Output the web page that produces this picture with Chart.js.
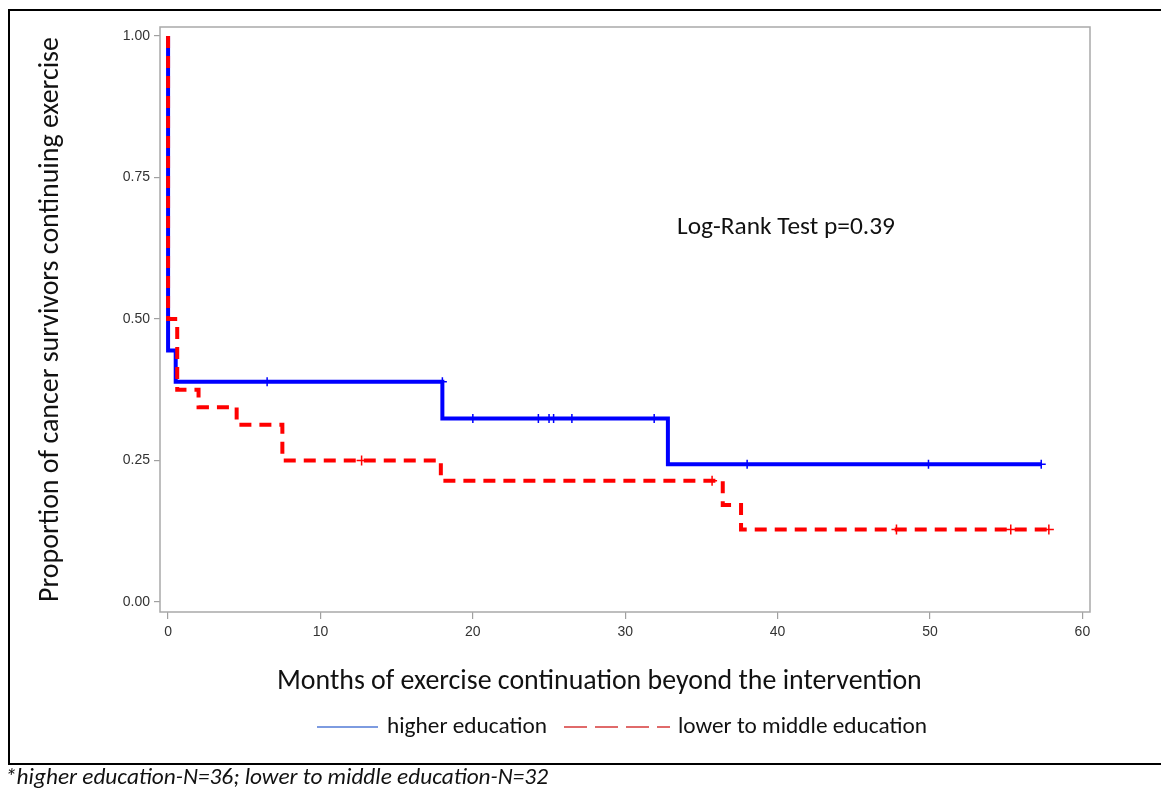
<!DOCTYPE html>
<html><head><meta charset="utf-8">
<script src="https://cdn.jsdelivr.net/npm/chart.js@4.4.0/dist/chart.umd.min.js"></script>
<style>html,body{margin:0;padding:0;background:#fff;}canvas{display:block;}</style>
</head><body>
<canvas id="c" width="1161" height="791"></canvas>
<script>
// ---- data ----
const xTicks = [0, 10, 20, 30, 40, 50, 60];
const yTicks = [0, 0.25, 0.5, 0.75, 1.0];
const seriesNames = ['higher education', 'lower to middle education'];

const higherTimes = [0, 0, 0.5, 18.0, 32.8, 57.3];
const higherSurv  = [1.0, 0.444, 0.389, 0.324, 0.243, 0.243];
const higherCensorTimes = [6.5, 18.0, 20.0, 24.3, 25.0, 25.3, 26.5, 31.9, 38.0, 49.9, 57.3];
const higherCensorSurv  = [0.389, 0.389, 0.324, 0.324, 0.324, 0.324, 0.324, 0.324, 0.243, 0.243, 0.243];

const lowerTimes = [0, 0, 0.6, 2.0, 4.5, 7.5, 17.9, 36.4, 37.6, 57.8];
const lowerSurv  = [1.0, 0.5, 0.375, 0.344, 0.313, 0.25, 0.214, 0.171, 0.128, 0.128];
const lowerCensorTimes = [12.7, 35.7, 47.8, 55.3, 57.8];
const lowerCensorSurv  = [0.25, 0.214, 0.128, 0.128, 0.128];

const xTitle = 'Months of exercise continuation beyond the intervention';
const yTitle = 'Proportion of cancer survivors continuing exercise';
const annotationText = 'Log-Rank Test p=0.39';
const footnoteText = '*higher education-N=36; lower to middle education-N=32';

// ---- helpers ----
const TXT_FAMILY = "Carlito, Lato, 'Open Sans', sans-serif";
const mctx = document.createElement('canvas').getContext('2d');
function fitSize(text, width, style) {
  mctx.font = (style || '') + ' 100px ' + TXT_FAMILY;
  return 100 * width / mctx.measureText(text).width;
}
const pts = (xs, ys) => xs.map((x, i) => ({x: x, y: ys[i]}));

const yTitleSize = fitSize(yTitle, 565);
const xTitleSize = fitSize(xTitle, 645);
const annSize = fitSize(annotationText, 218);
const legSize = fitSize(seriesNames[0], 160);
const footSize = fitSize(footnoteText, 543, 'italic');

const BLUE = '#0000ff', RED = '#ff0000';

const extras = {
  id: 'extras',
  beforeDatasetsDraw(chart) {
    const {ctx, chartArea: a} = chart;
    ctx.save();
    ctx.strokeStyle = '#a9a9a9';
    ctx.lineWidth = 1.5;
    ctx.strokeRect(a.left, a.top, a.right - a.left, a.bottom - a.top);
    ctx.restore();
  },
  afterDraw(chart) {
    const {ctx} = chart;
    ctx.save();
    // outer box
    ctx.strokeStyle = '#000';
    ctx.lineWidth = 2;
    ctx.strokeRect(9, 10, 1170, 754);
    // x axis title
    ctx.fillStyle = '#111';
    ctx.textBaseline = 'middle';
    ctx.textAlign = 'left';
    ctx.font = xTitleSize.toFixed(2) + 'px ' + TXT_FAMILY;
    ctx.fillText(xTitle, 277, 682);
    // annotation
    ctx.font = annSize.toFixed(2) + 'px ' + TXT_FAMILY;
    ctx.fillText(annotationText, 677, 228);
    // legend
    ctx.font = legSize.toFixed(2) + 'px ' + TXT_FAMILY;
    ctx.strokeStyle = '#7d9be0';
    ctx.lineWidth = 2;
    ctx.beginPath(); ctx.moveTo(317, 727); ctx.lineTo(378, 727); ctx.stroke();
    ctx.fillText(seriesNames[0], 387, 727);
    ctx.strokeStyle = '#e06a6a';
    ctx.setLineDash([23, 8]);
    ctx.beginPath(); ctx.moveTo(564, 727); ctx.lineTo(670, 727); ctx.stroke();
    ctx.setLineDash([]);
    ctx.fillText(seriesNames[1], 678, 727);
    // footnote
    ctx.font = 'italic ' + footSize.toFixed(2) + 'px ' + TXT_FAMILY;
    ctx.fillText(footnoteText, 5, 778);
    ctx.restore();
  }
};

const chart = new Chart(document.getElementById('c'), {
  type: 'line',
  data: {
    datasets: [
      {
        label: seriesNames[0] + ' censored', type: 'scatter',
        data: pts(higherCensorTimes, higherCensorSurv),
        pointStyle: 'cross', pointRadius: 4.5, pointBorderWidth: 1.5,
        borderColor: BLUE, backgroundColor: BLUE, showLine: false, order: 0
      },
      {
        label: seriesNames[1] + ' censored', type: 'scatter',
        data: pts(lowerCensorTimes, lowerCensorSurv),
        pointStyle: 'cross', pointRadius: 5, pointBorderWidth: 1.5,
        borderColor: RED, backgroundColor: RED, showLine: false, order: 0
      },
      {
        label: seriesNames[1], data: pts(lowerTimes, lowerSurv),
        stepped: true, borderColor: RED, borderWidth: 4, borderDash: [12, 8],
        borderJoinStyle: 'miter', borderCapStyle: 'butt',
        pointRadius: 0, fill: false, order: 1
      },
      {
        label: seriesNames[0], data: pts(higherTimes, higherSurv),
        stepped: true, borderColor: BLUE, borderWidth: 4,
        borderJoinStyle: 'miter', borderCapStyle: 'butt',
        pointRadius: 0, fill: false, order: 2
      }
    ]
  },
  options: {
    responsive: false, animation: false, devicePixelRatio: 1,
    layout: {padding: {top: 27, right: 71, left: 0, bottom: 0}},
    plugins: {legend: {display: false}, tooltip: {enabled: false}},
    scales: {
      x: {
        type: 'linear', min: -0.53, max: 60.5,
        afterBuildTicks: s => { s.ticks = xTicks.map(v => ({value: v})); },
        afterFit: s => { s.height = 791 - 612; },
        border: {display: false},
        grid: {drawOnChartArea: false, drawTicks: true, tickLength: 7, color: '#a0a0a0', lineWidth: 1.2},
        ticks: {color: '#333', padding: 5, font: {family: "'Liberation Sans', Arial, sans-serif", size: 14}, maxRotation: 0}
      },
      y: {
        type: 'linear', min: -0.018, max: 1.016,
        afterBuildTicks: s => { s.ticks = yTicks.map(v => ({value: v})); },
        afterFit: s => { s.width = 160; },
        border: {display: false},
        grid: {drawOnChartArea: false, drawTicks: true, tickLength: 6, color: '#a0a0a0', lineWidth: 1.2},
        ticks: {color: '#333', padding: 4, callback: v => Number(v).toFixed(2),
                font: {family: "'Liberation Sans', Arial, sans-serif", size: 14}},
        title: {display: true, text: yTitle, color: '#111',
                font: {family: TXT_FAMILY, size: yTitleSize, lineHeight: 1.2},
                padding: {top: 51 - 0.6 * yTitleSize, bottom: 0}}
      }
    }
  },
  plugins: [extras]
});
</script>
</body></html>
